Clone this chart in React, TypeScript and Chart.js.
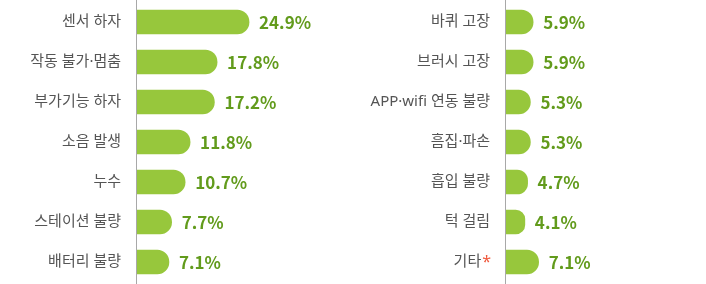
import React, { useEffect, useRef } from "react";
import { Chart, registerables } from "chart.js";

Chart.register(...registerables);

const leftCategories = ["센서 하자", "작동 불가·멈춤", "부가기능 하자", "소음 발생", "누수", "스테이션 불량", "배터리 불량"];
const leftValues = [24.9, 17.8, 17.2, 11.8, 10.7, 7.7, 7.1];

const rightCategories = ["바퀴 고장", "브러시 고장", "APP·wifi 연동 불량", "흠집·파손", "흡입 불량", "턱 걸림", "기타*"];
const rightValues = [5.9, 5.9, 5.3, 5.3, 4.7, 4.1, 7.1];

const BAR_COLOR = "#97c73c";
const VALUE_COLOR = "#629b1c";
const LABEL_COLOR = "#555555";
const AXIS_COLOR = "#a8a8a8";
const STAR_COLOR = "#f0583c";
const LABEL_FONT = "'Noto Sans', 'Noto Sans CJK KR', sans-serif";
const VALUE_FONT = "'Noto Sans CJK KR', 'Noto Sans', sans-serif";
const LABEL_SIZE = 15;

function makePlugins() {
  return [
    {
      id: "customDraw",
      afterDraw(chart: any) {
        const ctx = chart.ctx;
        const area = chart.chartArea;
        ctx.save();
        ctx.strokeStyle = AXIS_COLOR;
        ctx.lineWidth = 1;
        const lx = Math.round(area.left) - 0.5;
        ctx.beginPath();
        ctx.moveTo(lx, 0);
        ctx.lineTo(lx, chart.height);
        ctx.stroke();
        ctx.restore();

        const meta = chart.getDatasetMeta(0);
        const data = chart.data.datasets[0].data;
        ctx.save();
        ctx.font = `bold 17px ${VALUE_FONT}`;
        ctx.fillStyle = VALUE_COLOR;
        ctx.textAlign = "left";
        ctx.textBaseline = "middle";
        meta.data.forEach((bar: any, i: number) => {
          ctx.fillText(`${data[i]}%`, bar.x + 10, bar.y + 1);
        });
        ctx.restore();

        const yScale = chart.scales.y;
        const labels = chart.data.labels as string[];
        ctx.save();
        ctx.textBaseline = "middle";
        ctx.textAlign = "right";
        labels.forEach((lab, i) => {
          if (!lab.endsWith("*")) return;
          const right = Math.round(area.left) - 16;
          const y = yScale.getPixelForTick(i);
          ctx.font = `16px ${LABEL_FONT}`;
          const starW = ctx.measureText("*").width;
          ctx.fillStyle = STAR_COLOR;
          ctx.fillText("*", right + 1, y);
          ctx.font = `${LABEL_SIZE}px ${LABEL_FONT}`;
          ctx.fillStyle = LABEL_COLOR;
          ctx.fillText(lab.slice(0, -1), right - starW, y);
        });
        ctx.restore();
      },
    },
  ];
}

function BarPanel({ labels, values, axisX, rightPad }: { labels: string[]; values: number[]; axisX: number; rightPad: number }) {
  const ref = useRef<HTMLCanvasElement | null>(null);
  useEffect(() => {
    if (!ref.current) return;
    const chart = new Chart(ref.current, {
      type: "bar",
      data: {
        labels,
        datasets: [
          {
            data: values,
            backgroundColor: BAR_COLOR,
            borderRadius: 12,
            borderSkipped: "start",
            barThickness: 24,
          },
        ],
      },
      options: {
        indexAxis: "y",
        animation: false,
        responsive: false,
        maintainAspectRatio: false,
        events: [],
        layout: { padding: { top: 2, bottom: 2, left: 0, right: rightPad } },
        plugins: { legend: { display: false }, tooltip: { enabled: false } },
        scales: {
          x: { display: false, min: 0, max: 40 },
          y: {
            afterFit(scale: any) {
              scale.width = axisX;
              scale.paddingTop = 0;
              scale.paddingBottom = 0;
            },
            border: { display: false },
            grid: { display: false, drawTicks: false },
            ticks: {
              padding: 16,
              font: { family: LABEL_FONT, size: LABEL_SIZE },
              color: (c: any) => {
                const l = labels[c.index];
                return l && l.endsWith("*") ? "rgba(0,0,0,0)" : LABEL_COLOR;
              },
            },
          },
        },
      } as any,
      plugins: makePlugins() as any,
    });
    return () => chart.destroy();
  }, []);
  return <canvas ref={ref} width={353} height={284} style={{ display: "block", width: 353, height: 284 }} />;
}

export default function App() {
  useEffect(() => {
    document.body.style.margin = "0";
    document.body.style.background = "#ffffff";
  }, []);
  return (
    <div style={{ display: "flex", width: 706, height: 284, background: "#fff" }}>
      <BarPanel labels={leftCategories} values={leftValues} axisX={137} rightPad={353 - 137 - 180} />
      <BarPanel labels={rightCategories} values={rightValues} axisX={153} rightPad={353 - 153 - 184} />
    </div>
  );
}
